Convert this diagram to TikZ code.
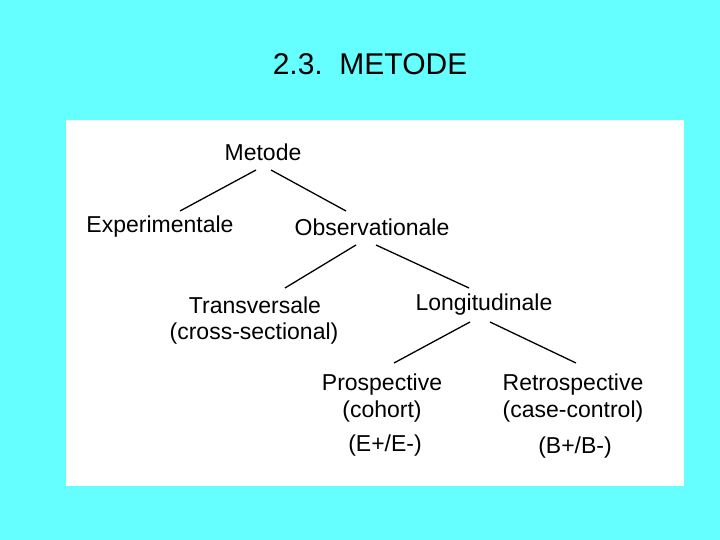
\documentclass[tikz,border=0pt]{standalone}
\usepackage{fontspec}
\setmainfont{Liberation Sans}
\begin{document}
\begin{tikzpicture}[x=1pt,y=-1pt,
  lbl/.style={font=\fontsize{23}{26}\selectfont, inner sep=0pt, anchor=center},
  edge/.style={line width=1.3pt}]
\useasboundingbox (0,0) rectangle (720,540);
\fill[cyan!60!white, fill={rgb,255:red,102;green,255;blue,255}] (0,0) rectangle (720,540);
\fill[white] (66,120) rectangle (684,486);
\node[font=\fontsize{30}{34}\selectfont, inner sep=0pt] (title) at (370,64) {2.3.\ \ METODE};
\node[lbl] (met) at (263,152) {Metode};
\node[lbl] (exp) at (160,227) {Experimentale};
\node[lbl] (obs) at (372,227) {Observationale};
\node[lbl] (tra) at (255,305) {Transversale};
\node[lbl] (tra2) at (254,334) {(cross-sectional)};
\node[lbl] (lon) at (484,305) {Longitudinale};
\node[lbl] (pro) at (382,385) {Prospective};
\node[lbl] (pro2) at (382,412) {(cohort)};
\node[lbl] (pro3) at (385,446) {(E+/E-)};
\node[lbl] (ret) at (573,385) {Retrospective};
\node[lbl] (ret2) at (573,412) {(case-control)};
\node[lbl] (ret3) at (575,448) {(B+/B-)};
\coordinate (m1) at (256,170); \coordinate (e1) at (180,211);
\coordinate (m2) at (271,170); \coordinate (o1) at (346,211);
\coordinate (o2) at (356,245); \coordinate (t1) at (285,288);
\coordinate (o3) at (376,245); \coordinate (l1) at (469,288);
\coordinate (l2) at (470,322); \coordinate (p1) at (394,363);
\coordinate (l3) at (490,322); \coordinate (r1) at (576,363);
\draw[edge] (m1) -- (e1);
\draw[edge] (m2) -- (o1);
\draw[edge] (o2) -- (t1);
\draw[edge] (o3) -- (l1);
\draw[edge] (l2) -- (p1);
\draw[edge] (l3) -- (r1);
\end{tikzpicture}
\end{document}
